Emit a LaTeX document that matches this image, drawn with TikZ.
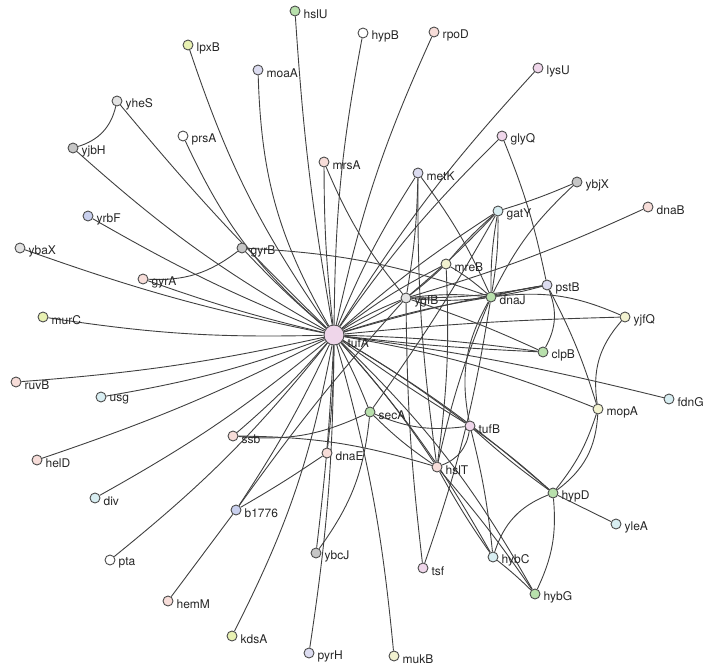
\documentclass[tikz,border=0pt]{standalone}
\usepackage{fontspec}
\setmainfont{TeX Gyre Heros}
\usetikzlibrary{backgrounds}
\definecolor{gpink}{HTML}{F7DDD9}
\definecolor{gmauve}{HTML}{EFD6EA}
\definecolor{ggreen}{HTML}{B8E0AC}
\definecolor{gyell}{HTML}{E8F1B2}
\definecolor{gcream}{HTML}{F2F2D0}
\definecolor{glav}{HTML}{DCDCF0}
\definecolor{gblue}{HTML}{C9D0EE}
\definecolor{gcyan}{HTML}{D8EEF2}
\definecolor{ggray}{HTML}{C6C6C6}
\definecolor{glight}{HTML}{E3E3E3}
\begin{document}
\begin{tikzpicture}[x=1pt,y=-1pt,line join=round,line cap=round,
	gn/.style={circle,draw=black!70,line width=0.9pt,inner sep=0pt,minimum size=10pt},
	lbl/.style={font=\fontsize{12}{14}\selectfont,inner sep=0pt,text=black!85,yshift=-3pt},
	lnk/.style={draw=black!75,line width=0.9pt}]
	\useasboundingbox (0,0) rectangle (709,671);
	% genes
	\foreach \n/\x/\y/\c in {hslU/295/11/ggreen,hypB/363/33/white,rpoD/434/32/gpink,
		lpxB/188/45/gyell,moaA/258/70/glav,lysU/538/68/gmauve,yheS/117/101/glight,
		prsA/183/136/white,glyQ/502/136/gmauve,yjbH/73/148/ggray,mrsA/324/162/gpink,
		metK/418/173/glav,ybjX/577/182/ggray,gatY/498/211/gcyan,dnaB/648/207/gpink,
		yrbF/88/216/gblue,ybaX/20/248/glight,gyrB/242/248/ggray,mreB/446/264/gcream,
		gyrA/143/279/gpink,pstB/547/285/glav,ygfB/406/298/glight,dnaJ/491/297/ggreen,
		murC/43/317/gyell,yjfQ/625/317/gcream,clpB/543/352/ggreen,ruvB/16/382/gpink,
		usg/101/397/gcyan,fdnG/669/399/gcyan,mopA/598/409/gcream,secA/370/412/ggreen,
		tufB/470/426/gmauve,ssb/233/436/gpink,dnaE/327/453/gpink,helD/37/460/gpink,
		hslT/437/467/gpink,hypD/553/493/ggreen,div/95/498/gcyan,b1776/236/510/gblue,
		yleA/616/524/gcyan,ybcJ/316/553/ggray,hybC/493/557/gcyan,pta/110/560/white,
		tsf/423/568/gmauve,hybG/535/594/ggreen,hemM/168/601/gpink,kdsA/232/636/gyell,
		pyrH/309/653/glav,mukB/394/656/gcream}
	\node[gn,fill=\c,label={[lbl,label distance=3pt]0:\n}] (\n) at (\x,\y) {};
	\node[gn,fill=gmauve,minimum size=20pt,label={[lbl,label distance=3pt,yshift=-5pt]0:tufA}] (tufA) at (334,335) {};
	% links
	\begin{scope}[on background layer]
		\foreach \a/\b/\s in {tufA/hslU/3,tufA/hypB/5,tufA/rpoD/6,tufA/lpxB/8,tufA/moaA/14,
			tufA/lysU/5,tufA/yheS/3,tufA/prsA/12,tufA/glyQ/5,tufA/yjbH/6,tufA/mrsA/3,
			tufA/metK/5,tufA/yrbF/4,tufA/ybaX/4,tufA/gyrB/3,tufA/gyrA/3,tufA/murC/5,
			tufA/ruvB/4,tufA/usg/5,tufA/helD/4,tufA/div/5,tufA/pta/6,tufA/kdsA/8,
			tufA/pyrH/4,tufA/mukB/5,tufA/ybcJ/2,tufA/dnaE/3,tufA/b1776/4,tufA/ssb/4,
			tufA/secA/3,tufA/ygfB/5,tufA/ygfB/-4,tufA/dnaJ/4,tufA/mreB/5,tufA/gatY/4,
			tufA/pstB/3,tufA/clpB/3,tufA/clpB/-2,tufA/yjfQ/2,tufA/fdnG/3,tufA/mopA/6,
			tufA/tufB/3,tufA/tufB/-2,tufA/hslT/4,tufA/hypD/5,tufA/hybC/6,tufA/hybG/8,
			yheS/yjbH/30,gyrA/gyrB/-20,gyrB/dnaJ/8,mrsA/ygfB/-8,metK/ygfB/4,metK/dnaJ/6,
			metK/hslT/-4,glyQ/pstB/5,ybjX/gatY/3,ybjX/dnaJ/-10,dnaB/ygfB/4,gatY/dnaJ/5,
			gatY/dnaJ/-5,gatY/ygfB/3,gatY/mreB/-4,gatY/secA/3,mreB/dnaJ/5,mreB/ygfB/3,
			mreB/hslT/5,pstB/dnaJ/3,pstB/dnaJ/-3,pstB/ygfB/5,pstB/clpB/25,pstB/mopA/5,
			ygfB/clpB/3,ygfB/dnaJ/6,ygfB/dnaJ/-6,dnaJ/yjfQ/15,yjfQ/mopA/-25,mopA/hypD/10,
			mopA/hypD/25,hypD/yleA/0,hypD/hybC/-25,hypD/hybG/15,hybC/hybG/3,hslT/hybC/-3,
			hslT/hybG/3,tufB/hypD/3,tufB/hypD/-3,tufB/hybC/4,hslT/tufB/-30,secA/tufB/-15,
			tufB/dnaJ/20,hslT/secA/5,hslT/dnaJ/5,ssb/hslT/8,ssb/secA/-15,ybcJ/secA/-15,
			dnaE/b1776/2,b1776/hemM/0,b1776/ygfB/3,tsf/ygfB/3,tsf/dnaJ/-5}
		\draw[lnk] (\a) to[bend left=\s] (\b);
	\end{scope}
\end{tikzpicture}
\end{document}
